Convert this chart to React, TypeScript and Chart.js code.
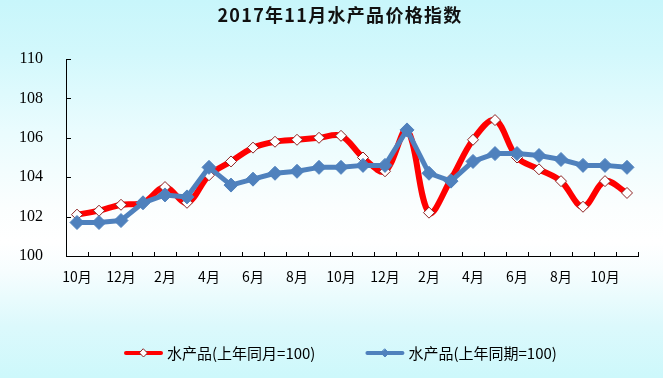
import React, { useEffect, useRef } from 'react';
import { Chart, registerables } from 'chart.js';

Chart.register(...registerables);

const TITLE = '2017年11月水产品价格指数';
const MONTHS = [
  '10月', '11月', '12月', '1月', '2月', '3月', '4月', '5月', '6月', '7月', '8月', '9月', '10月',
  '11月', '12月', '1月', '2月', '3月', '4月', '5月', '6月', '7月', '8月', '9月', '10月', '11月',
];
const SERIES_LABELS = ['水产品(上年同月=100)', '水产品(上年同期=100)'];
const YOY_MONTH = [
  102.1, 102.3, 102.6, 102.7, 103.5, 102.7, 104.1, 104.8, 105.5, 105.8, 105.9, 106.0, 106.1,
  105.0, 104.3, 106.4, 102.2, 103.9, 105.9, 106.9, 105.0, 104.4, 103.8, 102.5, 103.8, 103.2,
];
const YOY_PERIOD = [
  101.7, 101.7, 101.8, 102.7, 103.1, 103.0, 104.5, 103.6, 103.9, 104.2, 104.3, 104.5, 104.5,
  104.6, 104.6, 106.4, 104.2, 103.8, 104.8, 105.2, 105.2, 105.1, 104.9, 104.6, 104.6, 104.5,
];
const Y_TICKS = [100, 102, 104, 106, 108, 110];

const RED = '#ff0000';
const RED_EDGE = '#8b2323';
const BLUE = '#4f81bd';
const CJK = '"Noto Sans CJK SC", "Noto Sans", sans-serif';

const decorPlugin = {
  id: 'decor',
  beforeDatasetsDraw(chart: any) {
    const ctx = chart.ctx;
    const { left, bottom } = chart.chartArea;
    const xs = chart.scales.x;
    const ys = chart.scales.y;
    ctx.save();
    ctx.strokeStyle = '#000';
    ctx.lineWidth = 1;
    ctx.beginPath();
    Y_TICKS.forEach((v) => {
      const y = Math.round(ys.getPixelForValue(v)) + 0.5;
      ctx.moveTo(left, y);
      ctx.lineTo(left + 5, y);
    });
    for (let i = 0; i <= MONTHS.length; i++) {
      const x = Math.round(xs.getPixelForValue(i - 0.5)) + 0.5;
      ctx.moveTo(x, bottom);
      ctx.lineTo(x, bottom - 4);
    }
    ctx.stroke();
    ctx.restore();
  },
  afterDraw(chart: any) {
    const ctx = chart.ctx;
    ctx.save();
    // title
    ctx.font = `bold 18px ${CJK}`;
    (ctx as any).letterSpacing = '1.3px';
    ctx.fillStyle = '#111';
    ctx.textAlign = 'center';
    ctx.textBaseline = 'middle';
    ctx.fillText(TITLE, 340, 15);
    (ctx as any).letterSpacing = '0px';

    // legend
    const ly = 353;
    let x = 124;
    const lineLen = 39;
    ctx.font = `15px ${CJK}`;
    ctx.textAlign = 'left';
    chart.data.datasets.forEach((ds: any) => {
      ctx.strokeStyle = ds.borderColor;
      ctx.lineWidth = 4;
      ctx.lineCap = 'round';
      ctx.beginPath();
      ctx.moveTo(x + 2, ly);
      ctx.lineTo(x + lineLen - 2, ly);
      ctx.stroke();
      const cx = x + lineLen / 2;
      const r = 4;
      ctx.beginPath();
      ctx.moveTo(cx, ly - r);
      ctx.lineTo(cx + r, ly);
      ctx.lineTo(cx, ly + r);
      ctx.lineTo(cx - r, ly);
      ctx.closePath();
      ctx.fillStyle = ds.pointBackgroundColor;
      ctx.fill();
      ctx.lineWidth = 1;
      ctx.strokeStyle = ds.pointBorderColor;
      ctx.stroke();
      ctx.fillStyle = '#000';
      const tx = x + lineLen + 4;
      ctx.fillText(ds.label, tx, ly);
      x = tx + ctx.measureText(ds.label).width + 50;
    });
    ctx.restore();
  },
};

export default function App() {
  const ref = useRef<HTMLCanvasElement | null>(null);

  useEffect(() => {
    if (!ref.current) return;
    const chart = new Chart(ref.current, {
      type: 'line',
      data: {
        labels: MONTHS,
        datasets: [
          {
            label: SERIES_LABELS[0],
            data: YOY_MONTH,
            borderColor: RED,
            borderWidth: 6,
            tension: 0.35,
            borderCapStyle: 'round',
            borderJoinStyle: 'round',
            pointStyle: 'rectRot',
            pointRadius: 5.5,
            pointBackgroundColor: '#ffffff',
            pointBorderColor: RED_EDGE,
            pointBorderWidth: 1,
            order: 1,
          },
          {
            label: SERIES_LABELS[1],
            data: YOY_PERIOD,
            borderColor: BLUE,
            borderWidth: 5,
            tension: 0,
            borderJoinStyle: 'round',
            pointStyle: 'rectRot',
            pointRadius: 7,
            pointBackgroundColor: BLUE,
            pointBorderColor: BLUE,
            pointBorderWidth: 1,
            order: 0,
          },
        ],
      },
      options: {
        responsive: false,
        animation: false,
        devicePixelRatio: 1,
        layout: { padding: { top: 59, right: 25, bottom: 0, left: 0 } },
        plugins: {
          legend: { display: false },
          title: { display: false },
          tooltip: { enabled: false },
        },
        scales: {
          x: {
            type: 'category',
            offset: true,
            grid: { display: true, drawOnChartArea: false, drawTicks: false, offset: true },
            border: { display: true, color: '#000', width: 1 },
            ticks: {
              autoSkip: false,
              maxRotation: 0,
              minRotation: 0,
              padding: 12,
              color: '#000',
              font: { family: CJK, size: 14 },
              callback: (_v: any, i: number) => (i % 2 === 0 ? MONTHS[i] : ''),
            },
            afterFit: (s: any) => {
              s.height = 122;
            },
          },
          y: {
            min: 100,
            max: 110,
            afterBuildTicks: (s: any) => {
              s.ticks = Y_TICKS.map((v) => ({ value: v }));
            },
            grid: { display: true, drawOnChartArea: false, drawTicks: false },
            border: { display: true, color: '#000', width: 1 },
            ticks: {
              padding: 23,
              color: '#000',
              font: { family: '"Liberation Serif", "DejaVu Serif", serif', size: 16 },
            },
            afterFit: (s: any) => {
              s.width = 66;
            },
          },
        },
      },
      plugins: [decorPlugin],
    } as any);
    return () => chart.destroy();
  }, []);

  return (
    <div
      style={{
        position: 'fixed',
        left: 0,
        top: 0,
        width: 663,
        height: 378,
        background:
          'linear-gradient(180deg, #c8f6fb 0%, #d2f8fc 14%, #eafcfe 35%, #fbfefe 55%, #ffffff 64%, #f6fdfe 72%, #dcf9fc 86%, #cdf8fb 100%)',
      }}
    >
      <canvas ref={ref} width={663} height={378} style={{ display: 'block', width: 663, height: 378 }} />
    </div>
  );
}
